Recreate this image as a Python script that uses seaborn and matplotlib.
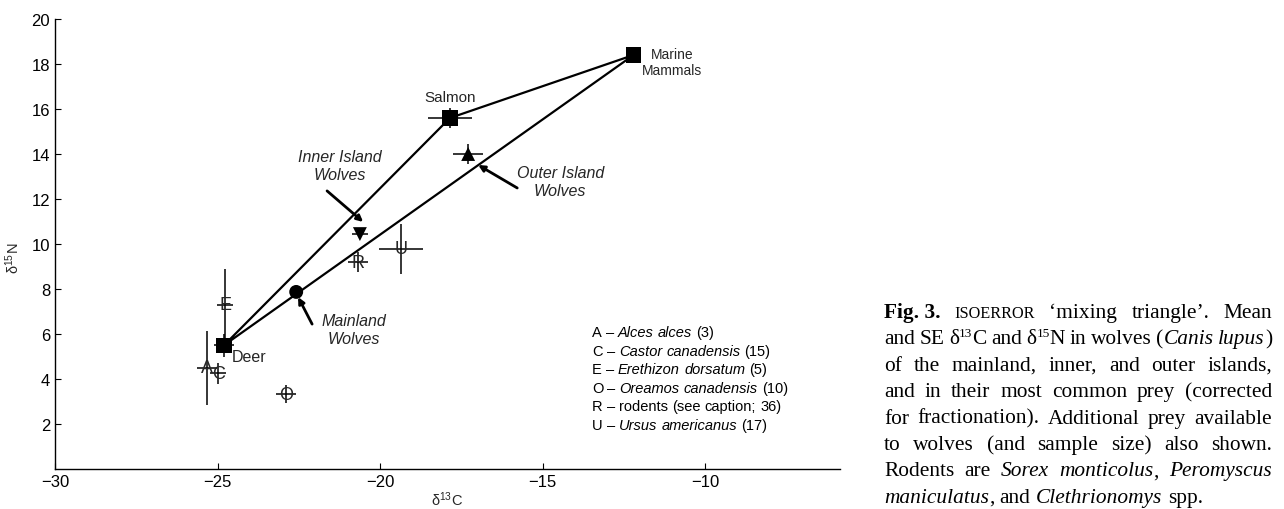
import matplotlib
matplotlib.use("Agg")
import matplotlib.pyplot as plt
import seaborn as sns
import numpy as np
import pandas as pd
from matplotlib.transforms import IdentityTransform

# ---------------- data ----------------
source_names = ["Deer", "Salmon", "Marine\nMammals"]
source_x = [-24.8, -17.85, -12.2]
source_y = [5.5, 15.6, 18.4]
source_xerr = [0.3, 0.69, 0.2]
source_yerr = [0.5, 0.45, 0.35]

wolf_names = ["Mainland\nWolves", "Inner Island\nWolves", "Outer Island\nWolves"]
wolf_x = [-22.58, -20.62, -17.29]
wolf_y = [7.87, 10.44, 14.0]
wolf_xerr = [0.15, 0.25, 0.46]
wolf_yerr = [0.15, 0.2, 0.44]

prey_letters = ["A", "C", "E", "O", "R", "U"]
prey_x = [-25.32, -24.98, -24.77, -22.89, -20.68, -19.35]
prey_y = [4.5, 4.25, 7.3, 3.33, 9.2, 9.78]
prey_xerr = [0.3, 0.25, 0.25, 0.3, 0.32, 0.68]
prey_yerr = [1.65, 0.45, 1.6, 0.4, 0.45, 1.1]
prey_species = ["Alces alces", "Castor canadensis", "Erethizon dorsatum",
                "Oreamos canadensis", "rodents", "Ursus americanus"]
prey_italic = [True, True, True, True, False, True]
prey_note = ["(3)", "(15)", "(5)", "(10)", "(see caption; 36)", "(17)"]

x_ticks = [-30, -25, -20, -15, -10]
y_ticks = [2, 4, 6, 8, 10, 12, 14, 16, 18, 20]

# ---------------- style ----------------
sns.set_style("ticks")
plt.rcParams["font.family"] = ["Liberation Sans", "DejaVu Sans"]
plt.rcParams["mathtext.fontset"] = "custom"
plt.rcParams["mathtext.rm"] = "Liberation Sans"
plt.rcParams["mathtext.it"] = "Liberation Sans:italic"

W, H = 1284, 510
fig = plt.figure(figsize=(W / 100, H / 100), dpi=100)
ax = fig.add_axes([55 / W, 40 / H, 785 / W, 450 / H])
ax.set_xlim(-30, -5.85)
ax.set_ylim(0, 20)
ax.set_xticks(x_ticks)
ax.set_yticks(y_ticks)
ax.tick_params(direction="in", length=4, width=0.8, labelsize=12, colors="black")
for s in ["top", "right"]:
    ax.spines[s].set_visible(False)
for s in ["left", "bottom"]:
    ax.spines[s].set_linewidth(1.0)
    ax.spines[s].set_color("black")

# mixing triangle
tri = pd.DataFrame({"x": source_x + [source_x[0]], "y": source_y + [source_y[0]]})
sns.lineplot(data=tri, x="x", y="y", sort=False, estimator=None, color="black",
             lw=1.6, ax=ax)

# error bars
all_x = source_x + wolf_x + prey_x
all_y = source_y + wolf_y + prey_y
all_xe = source_xerr + wolf_xerr + prey_xerr
all_ye = source_yerr + wolf_yerr + prey_yerr
ax.errorbar(all_x, all_y, xerr=all_xe, yerr=all_ye, fmt="none", ecolor="black",
            elinewidth=1.1, capsize=0, zorder=3)

# markers
src = pd.DataFrame({"x": source_x, "y": source_y, "name": source_names})
sns.scatterplot(data=src, x="x", y="y", marker="s", s=120, color="black",
                edgecolor="none", ax=ax, zorder=4, legend=False)
wdf = pd.DataFrame({"x": wolf_x, "y": wolf_y, "name": wolf_names})
sns.scatterplot(data=wdf, x="x", y="y", style="name",
                markers=dict(zip(wolf_names, ["o", "v", "^"])), s=100,
                color="black", edgecolor="none", ax=ax, zorder=4, legend=False)

for L, x, y in zip(prey_letters, prey_x, prey_y):
    ax.text(x, y, L, ha="center", va="center", fontsize=13, zorder=5)

ax.set_xlabel("δ$^{13}$C", fontsize=10.5)
ax.set_ylabel("δ$^{15}$N", fontsize=10.5)
ax.xaxis.set_label_coords(0.5, -0.045)
ax.yaxis.set_label_coords(-0.042, 0.47)

# source labels
ax.text(source_x[0] + 0.25, source_y[0] - 0.52, source_names[0], ha="left",
        va="center", fontsize=11.5)
ax.text(source_x[1], source_y[1] + 0.93, source_names[1], ha="center",
        va="center", fontsize=11)
ax.text(source_x[2] + 1.18, source_y[2] - 0.3, source_names[2], ha="center",
        va="center", fontsize=10, linespacing=1.15)

# wolf annotations
ann = [((-20.8, 6.18), (-22.09, 6.44), 0),
       ((-21.23, 13.47), (-21.63, 12.36), 1),
       ((-14.46, 12.76), (-15.78, 12.49), 2)]
for (tpos, start, i) in ann:
    ax.text(tpos[0], tpos[1], wolf_names[i], ha="center", va="center",
            fontsize=11.5, style="italic", linespacing=1.25)
tips = [(-22.52, 7.64), (-20.52, 10.98), (-16.98, 13.51)]
for (tpos, start, i), tip in zip(ann, tips):
    ax.annotate("", xy=tip, xytext=start,
                arrowprops=dict(arrowstyle="-|>", lw=2.0, color="black",
                                mutation_scale=9, shrinkA=0, shrinkB=0))

# ---------------- rich text helper ----------------
renderer = fig.canvas.get_renderer()


def piece(txt, style, fs, family):
    kw = dict(fontsize=fs, family=family, transform=IdentityTransform(),
              va="baseline", ha="left", color="black")
    if style == "b":
        kw["weight"] = "bold"
    if style == "i":
        kw["style"] = "italic"
    if style == "sc":
        kw["fontsize"] = fs * 0.76
    if style == "sup":
        kw["fontsize"] = fs * 0.62
    return fig.text(0, 0, txt, **kw)


def layout(words, x0, base_img, fs, family, width=None, space_em=0.26):
    objs = []
    widths = []
    for w in words:
        row = []
        for t, st in w:
            o = piece(t, st, fs, family)
            row.append((o, st))
        objs.append(row)
    ww = []
    for row in objs:
        tot = 0
        ws = []
        for o, st in row:
            wd = o.get_window_extent(renderer).width
            ws.append(wd)
            tot += wd
        widths.append(ws)
        ww.append(tot)
    fs_px = fs * 100 / 72
    if width is None or len(words) < 2:
        gap = space_em * fs_px
    else:
        gap = (width - sum(ww)) / (len(words) - 1)
    x = x0
    yb = H - base_img
    for row, ws in zip(objs, widths):
        for (o, st), wd in zip(row, ws):
            dy = 0.36 * fs_px if st == "sup" else 0
            o.set_position((x, yb + dy))
            x += wd
        x += gap


def simple(text, style="r"):
    return [[(w, style)] for w in text.split(" ")]


# legend of prey letters
leg_base = [337, 355.6, 374.2, 392.8, 411.4, 430]
for L, sp, it, note, b in zip(prey_letters, prey_species, prey_italic, prey_note, leg_base):
    words = [[(L, "r")], [("–", "r")]] + simple(sp, "i" if it else "r") + simple(note)
    layout(words, 592, b, 10.5, ["Liberation Sans"], space_em=0.28)

# caption
cap_lines = [
    [[("Fig. 3.", "b")], [("ISOERROR", "sc")], [("‘mixing", "r")],
     [("triangle’.", "r")], [("Mean", "r")]],
    simple("and SE") + [[("δ", "r"), ("13", "sup"), ("C", "r")]] + simple("and")
    + [[("δ", "r"), ("15", "sup"), ("N", "r")]] + simple("in wolves")
    + [[("(", "r"), ("Canis", "i")], [("lupus", "i"), (")", "r")]],
    simple("of the mainland, inner, and outer islands,"),
    simple("and in their most common prey (corrected"),
    simple("for fractionation). Additional prey available"),
    simple("to wolves (and sample size) also shown."),
    simple("Rodents are") + [[("Sorex", "i")], [("monticolus", "i"), (",", "r")],
                             [("Peromyscus", "i")]],
    [[("maniculatus", "i"), (",", "r")]] + simple("and") + [[("Clethrionomys", "i")]]
    + simple("spp."),
]
for k, words in enumerate(cap_lines):
    base = 318 + 26.4 * k
    last = k == len(cap_lines) - 1
    layout(words, 884, base, 15.4, ["Liberation Serif"],
           width=None if last else 1272 - 884, space_em=0.25)

fig.savefig("out.png", dpi=100)
